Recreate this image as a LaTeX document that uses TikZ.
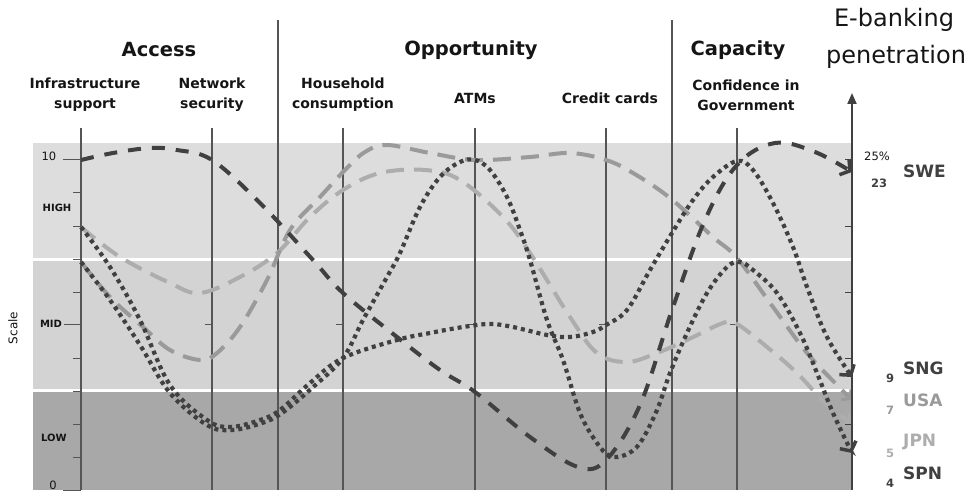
\documentclass[tikz,border=0pt]{standalone}
\usepackage{fontspec}
\setmainfont{DejaVu Sans}
\usetikzlibrary{arrows.meta}
\definecolor{hiband}{HTML}{DDDDDD}
\definecolor{midband}{HTML}{D3D3D3}
\definecolor{lowband}{HTML}{A8A8A8}
\definecolor{axisgray}{HTML}{555555}
\definecolor{darkline}{HTML}{404040}
\definecolor{usagray}{HTML}{9A9A9A}
\definecolor{jpngray}{HTML}{ADADAD}
\definecolor{txt}{HTML}{151515}
\begin{document}
\begin{tikzpicture}[x=1pt,y=-1pt,
  head/.style={font=\bfseries\fontsize{19.5}{22}\selectfont, text=txt, inner sep=0pt},
  crit/.style={font=\bfseries\fontsize{14}{20}\selectfont, align=center, text=txt, inner sep=0pt},
  vax/.style={draw=axisgray, line width=1.2pt},
  tickln/.style={draw=axisgray, line width=1pt},
  scl/.style={font=\bfseries\fontsize{10}{11}\selectfont, text=txt, inner sep=0pt},
  ctry/.style={font=\bfseries\fontsize{17}{20}\selectfont, inner sep=0pt, anchor=west},
  cnum/.style={font=\bfseries\fontsize{11.5}{13}\selectfont, inner sep=0pt},
  barb/.style={-{Straight Barb[length=7pt,width=18pt,line width=3.5pt]}},
  swecurve/.style={draw=darkline, line width=4pt, dash pattern=on 13pt off 11pt, barb},
  dotcurve/.style={draw=darkline, line width=4.2pt, dash pattern=on 4pt off 4pt, barb},
  lightcurve/.style={line width=4pt, dash pattern=on 18pt off 10pt,
     -{Straight Barb[length=6pt,width=14pt,line width=3pt]}}
]
\useasboundingbox (0,0) rectangle (967,492);
% bands
\fill[hiband] (33,143) rectangle (852,258);
\fill[midband] (33,261) rectangle (852,389);
\fill[lowband] (33,392) rectangle (852,490);
% headers
\node[head] (access) at (159,50) {Access};
\node[head] (opp) at (471,50) {Opportunity};
\node[head] (cap) at (738,50) {Capacity};
\node[font=\fontsize{24}{28}\selectfont, text=txt, inner sep=0pt] (eb1) at (894,20) {E-banking};
\node[font=\fontsize{24}{28}\selectfont, text=txt, inner sep=0pt] (eb2) at (896,57) {penetration};
% criteria
\node[crit] (infra) at (85,95) {Infrastructure\\support};
\node[crit] (netsec) at (212,95) {Network\\security};
\node[crit] (house) at (343,95) {Household\\consumption};
\node[crit] (atm) at (475,98) {ATMs};
\node[crit] (cc) at (610,98) {Credit cards};
\node[crit] (conf) at (746,95) {Confidence in\\Government};
% dividers
\draw[vax] (278,20) -- (278,490);
\draw[vax] (672,20) -- (672,490);
% criterion axes
\foreach \x in {81,212,343,475,606,737} {\draw[vax] (\x,128) -- (\x,490);}
\foreach \x in {212,343,475,606,737} {\draw[tickln] (\x-7,324) -- (\x,324);}
% left scale ticks
\foreach \y in {193,226,259,292,358,391,424,457} {\draw[tickln] (73,\y) -- (81,\y);}
\draw[tickln] (63,160) -- (81,160);
\draw[tickln] (64,324) -- (81,324);
\draw[tickln] (63,490) -- (81,490);
\node[font=\fontsize{11.5}{13}\selectfont, text=txt, inner sep=0pt] (ten) at (49,156) {10};
\node[font=\fontsize{11.5}{13}\selectfont, text=txt, inner sep=0pt] (zero) at (53,485) {0};
\node[scl] (high) at (57,208) {HIGH};
\node[scl] (mid) at (51,324) {MID};
\node[scl] (low) at (54,438) {LOW};
\node[font=\fontsize{12}{14}\selectfont, text=txt, inner sep=0pt, rotate=90] (scale) at (13,328) {Scale};
% curves
\draw[lightcurve, draw=jpngray] plot[smooth, tension=0.6] coordinates {(81,227) (120,257) (170,283) (200,293) (240,277) (277,253) (310,217) (343,190) (380,173) (425,170) (460,180) (503,217) (530,253) (570,317) (597,353) (627,362) (657,353) (687,340) (723,323) (737,324) (767,347) (797,373) (827,405) (852,423)};
\draw[lightcurve, draw=usagray] plot[smooth, tension=0.6] coordinates {(81,262) (110,297) (143,327) (170,350) (200,360) (217,353) (240,327) (267,280) (290,230) (320,197) (345,170) (365,152) (387,145) (430,153) (475,160) (530,157) (570,153) (606,160) (633,173) (670,198) (713,237) (737,258) (773,307) (807,353) (840,388) (852,400)};
\draw[swecurve] plot[smooth, tension=0.6] coordinates {(81,160) (113,153) (150,148) (177,150) (212,160) (260,203) (313,260) (343,293) (397,337) (440,370) (475,392) (530,437) (578,467) (606,460) (640,405) (672,310) (705,220) (737,165) (775,143) (815,152) (852,172)};
\draw[dotcurve] plot[smooth, tension=0.6] coordinates {(81,227) (110,267) (140,320) (170,385) (207,420) (230,427) (260,420) (280,410) (310,383) (343,358) (397,340) (430,333) (463,327) (490,324) (513,327) (547,335) (570,337) (593,332) (606,325) (627,310) (650,270) (672,233) (693,200) (713,177) (737,161) (753,170) (773,203) (793,247) (807,287) (827,337) (852,377)};
\draw[dotcurve] plot[smooth, tension=0.6] coordinates {(81,262) (110,300) (140,345) (170,393) (207,425) (232,430) (262,423) (282,413) (312,388) (343,358) (363,320) (387,277) (400,253) (420,207) (440,177) (460,162) (475,160) (490,170) (507,197) (520,230) (530,260) (547,320) (563,360) (580,413) (597,443) (610,456) (625,455) (640,443) (657,410) (670,373) (687,333) (707,293) (727,267) (740,262) (753,270) (777,293) (800,333) (817,373) (833,413) (852,453)};
% right axis
\coordinate (rbot) at (852,490);
\coordinate (rtop) at (852,93);
\draw[draw=darkline, line width=2pt, -{Triangle[length=11pt,width=9pt]}] (rbot) -- (rtop);
\foreach \y in {160,226,292,358,424} {\draw[draw=darkline, line width=1pt] (845,\y) -- (852,\y);}
% right labels
\node[font=\fontsize{11.5}{13}\selectfont, text=txt, inner sep=0pt] (pct) at (877,156) {25\%};
\node[cnum, text=darkline] (n23) at (879,183) {23};
\node[ctry, text=darkline] (swe) at (903,171) {SWE};
\node[cnum, text=darkline] (n9) at (890,378) {9};
\node[ctry, text=darkline] (sng) at (903,368) {SNG};
\node[cnum, text=usagray] (n7) at (890,410) {7};
\node[ctry, text=usagray] (usa) at (903,400) {USA};
\node[cnum, text=jpngray] (n5) at (890,453) {5};
\node[ctry, text=jpngray] (jpn) at (903,442) {JPN};
\node[cnum, text=darkline] (n4) at (890,483) {4};
\node[ctry, text=darkline] (spn) at (903,473) {SPN};
\end{tikzpicture}
\end{document}
